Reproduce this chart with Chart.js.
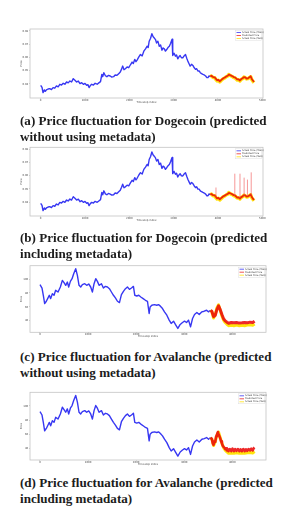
<!DOCTYPE html>
<html>
<head>
<meta charset="utf-8">
<script src="https://cdn.jsdelivr.net/npm/chart.js@4.4.0/dist/chart.umd.min.js"></script>
<style>
	body { margin: 0; width: 297px; height: 524px; background: #fff; position: relative; overflow: hidden; }
	canvas { position: absolute; left: 0; }
	.cap { position: absolute; left: 20px; font-family: "Liberation Serif", serif; font-weight: bold; font-size: 12px;
		line-height: 15.7px; color: #1c1c1c; white-space: nowrap; }
</style>
</head>
<body>
<canvas id="chartA" width="297" height="90" style="top:20px"></canvas>
<canvas id="chartB" width="297" height="90" style="top:138px"></canvas>
<canvas id="chartC" width="297" height="87" style="top:257px"></canvas>
<canvas id="chartD" width="297" height="89" style="top:383px"></canvas>
<div class="cap" style="top:113px">(a) Price fluctuation for Dogecoin (predicted<br>without using metadata)</div>
<div class="cap" style="top:230px">(b) Price fluctuation for Dogecoin (predicted<br>including metadata)</div>
<div class="cap" style="top:349px">(c) Price fluctuation for Avalanche (predicted<br>without using metadata)</div>
<div class="cap" style="top:475px">(d) Price fluctuation for Avalanche (predicted<br>including metadata)</div>
<script>
const seriesLabels = ['Actual Price (Train)', 'Predicted Price', 'Actual Price (Test)'];

// Dogecoin
const dogeXTicks = [0, 1000, 2000, 3000, 4000, 5000];
const dogeYTicks = [0.04, 0.05, 0.06, 0.07, 0.08];
const dogeYLabels = ['0.04', '0.05', '0.06', '0.07', '0.08'];
const dogeTrainIdx = [0, 30, 53, 83, 106, 129, 167, 205, 243, 280, 318, 356, 394, 432, 470, 508, 546, 584, 620, 659, 697, 735, 773, 811, 850, 887, 925, 963, 1000, 1038, 1065, 1092, 1120, 1152, 1190, 1228,
	1275, 1319, 1350, 1380, 1400, 1425, 1460, 1493, 1530, 1569, 1605, 1645, 1680, 1721, 1760, 1796, 1825, 1850, 1880, 1910, 1950, 1986, 2025, 2062, 2090, 2122, 2150, 2175, 2215, 2251, 2290, 2327, 2365, 2403, 2425, 2448, 2480, 2509, 2535, 2562,
	2590, 2615, 2645, 2676, 2705, 2736, 2762, 2789, 2815, 2843, 2872, 2903, 2930, 2956, 2965, 2979, 3010, 3040, 3065, 3093, 3120, 3146, 3175, 3206, 3235, 3267, 3295, 3320, 3345, 3373, 3405, 3434, 3465, 3494, 3520, 3547, 3575, 3601, 3630, 3661,
	3690, 3722, 3750, 3775, 3800, 3828];
const dogeTrainPrice = [0.039, 0.0375, 0.0335, 0.0355, 0.0345, 0.0355, 0.0362, 0.0365, 0.0358, 0.03725, 0.0368, 0.0385, 0.0378, 0.03975, 0.0392, 0.0405, 0.0398, 0.0415, 0.0408, 0.04225, 0.0415, 0.044, 0.0428, 0.0415, 0.0422, 0.04025, 0.041, 0.03975, 0.0404, 0.039, 0.0395, 0.03725, 0.0388, 0.03975, 0.0392, 0.0405,
	0.0398, 0.041, 0.0418, 0.04725, 0.0455, 0.0485, 0.0462, 0.0455, 0.0465, 0.046, 0.0452, 0.0455, 0.0468, 0.0465, 0.0478, 0.049, 0.0512, 0.0535, 0.0508, 0.0515, 0.0528, 0.05225, 0.0545, 0.0565, 0.0555, 0.0585, 0.0568, 0.058, 0.0605, 0.06225, 0.0612, 0.06475, 0.0665, 0.0685, 0.0675, 0.07225, 0.0745, 0.078, 0.0758, 0.07475,
	0.0735, 0.071, 0.0722, 0.0685, 0.0695, 0.0655, 0.0672, 0.0665, 0.0648, 0.066, 0.0675, 0.0685, 0.0705, 0.073, 0.0738, 0.0615, 0.0632, 0.061, 0.0618, 0.059, 0.0605, 0.0615, 0.0598, 0.05975, 0.0612, 0.06225, 0.0595, 0.05725, 0.0555, 0.0535, 0.0548, 0.054, 0.0522, 0.051, 0.0515, 0.04975, 0.0498, 0.0485, 0.0478, 0.04725,
	0.0468, 0.046, 0.0448, 0.04475, 0.0462, 0.0455];
const dogeTestIdx = [3828, 3851, 3890, 3927, 3955, 3980, 4010, 4040, 4070, 4101, 4130, 4161, 4190, 4222, 4245, 4268, 4298, 4328, 4355, 4381, 4410, 4434, 4465, 4495, 4525, 4556, 4585, 4616, 4645, 4677, 4708, 4738, 4760, 4783, 4813];
const dogeTestActual = [0.0455, 0.046, 0.0448, 0.04475, 0.0432, 0.04225, 0.0428, 0.0415, 0.0425, 0.0435, 0.0442, 0.04475, 0.0455, 0.046, 0.0472, 0.0465, 0.046, 0.0455, 0.0448, 0.04475, 0.0438, 0.043, 0.0432, 0.04225, 0.0435, 0.044, 0.0452, 0.04475, 0.0438, 0.044, 0.0448, 0.0455, 0.0435, 0.04225, 0.041];
const dogePredicted = [0.0455, 0.0462, 0.0452, 0.045, 0.0438, 0.0428, 0.0431, 0.042, 0.0429, 0.0438, 0.0445, 0.045, 0.0457, 0.0462, 0.047, 0.0468, 0.0463, 0.0458, 0.0452, 0.045, 0.0442, 0.0434, 0.0435, 0.0426, 0.0437, 0.0443, 0.0452, 0.045, 0.0441, 0.0443, 0.045, 0.0458, 0.044, 0.0428, 0.0416];
const dogeSpikeIdx = [3955, 4380, 4497, 4590, 4665, 4750];
const dogeSpikeBase = [0.044, 0.0447, 0.0427, 0.0447, 0.0444, 0.0451];
const dogeSpikeTop = [0.051, 0.0615, 0.0615, 0.0585, 0.057, 0.0625];

// Avalanche
const avaxXTicks = [0, 1000, 2000, 3000, 4000];
const avaxYTicks = [40, 60, 80, 100];
const avaxYLabels = ['40', '60', '80', '100'];
const avaxTrainIdx = [0, 42, 69, 97, 132, 167, 194, 222, 257, 292, 326, 375, 424, 465, 500, 535, 569, 597, 632, 667,
	701, 743, 778, 812, 847, 882, 931, 972, 1014, 1055, 1090, 1125, 1160, 1194, 1229, 1278, 1319, 1361, 1403, 1444,
	1486, 1528, 1569, 1611, 1653, 1694, 1736, 1778, 1819, 1861, 1903, 1944, 1972, 2014, 2055, 2097, 2146, 2194, 2236, 2271,
	2291, 2326, 2382, 2430, 2465, 2500, 2549, 2590, 2639, 2688, 2729, 2778, 2826, 2868, 2917, 2965, 3007, 3049, 3090, 3132,
	3174, 3215, 3264, 3313, 3368, 3417, 3466, 3507, 3549];
const avaxTrainPrice = [91.9, 87.1, 76.7, 64.8, 68.1, 72.9, 76.7, 71.9, 79, 76.7, 83.8, 81.4, 88.6, 98.1, 94.8, 91, 95.7, 88.6, 96.7, 100.5,
	107.6, 114.8, 105.2, 91, 88.6, 91.9, 93.3, 91, 92.9, 88.6, 81.4, 93.3, 100.5, 96.7, 91, 93.3, 87.1, 89.5, 88.6, 86.2,
	81.4, 76.7, 72.9, 68.1, 66.2, 77.6, 82.4, 86.2, 88.6, 85.2, 87.1, 89.5, 76.7, 75.7, 76.7, 74.3, 71.9, 69.5, 68.1, 50.5,
	60, 62.4, 63.3, 62.4, 63.3, 61.4, 57.6, 52.9, 48.1, 41, 36.2, 39.5, 33.8, 29, 34.8, 37.6, 39.5, 37.6, 41, 31.4,
	43.3, 49, 51.9, 49, 52.9, 53.8, 55.2, 52.9, 55.2];
const avaxTestIdx = [3549, 3576, 3611, 3646, 3680, 3715, 3750, 3785, 3819, 3854, 3889, 3924, 3979, 4035, 4090, 4146, 4201, 4257, 4312, 4368, 4424, 4465];
const avaxTestActual = [55.2, 52.9, 44, 49, 58.5, 63, 55, 47, 41, 37.5, 35, 33, 33.5, 33, 33.8, 33, 33.5, 33, 33.8, 34.2, 33.5, 35.5];
const avaxPredictedC = [55.2, 53.5, 46, 48, 56, 61.5, 56, 49, 43, 40, 38, 36.5, 37.6, 37.1, 37.6, 36.7, 37.1, 37.6, 37.1, 38.1, 37.6, 39.5];
const avaxPredDIdx = [3549, 3576, 3595, 3611, 3630, 3646, 3665, 3680, 3700, 3715, 3733, 3750, 3768, 3785, 3800, 3819, 3836, 3854, 3870, 3889,
	3905, 3924, 3950, 3979, 4005, 4035, 4060, 4090, 4118, 4146, 4172, 4201, 4230, 4257, 4285, 4312, 4340, 4368, 4395, 4424, 4445, 4465];
const avaxPredictedD = [55.2, 53, 47, 45, 50, 49, 57, 59, 63, 60, 57, 54, 50, 47, 44, 42, 41, 39, 40, 37,
	39, 36, 39, 36, 39.5, 36, 39, 36.5, 39, 36, 38.5, 36, 39, 36, 38.5, 36.5, 39, 37, 39.5, 37, 40, 41];

const BLUE = 'rgba(20,20,240,0.85)';
const RED = 'rgba(235,10,10,0.88)';
const YELLOW = 'rgba(255,225,0,0.95)';
const AXIS_FONT = { family: 'DejaVu Sans', size: 2.6 };

function pts(xs, ys) {
	return xs.map((x, i) => ({ x: x, y: ys[i] }));
}

function spikePts(xs, base, top) {
	const out = [];
	xs.forEach((x, i) => {
		out.push({ x: x, y: base[i] }, { x: x, y: top[i] }, { x: x + 1, y: null });
	});
	return out;
}

const frame = {
	id: 'frame',
	afterDraw(chart) {
		const { ctx, chartArea: a } = chart;
		ctx.save();
		ctx.strokeStyle = '#c4c4c4';
		ctx.lineWidth = 0.8;
		ctx.strokeRect(a.left, a.top, a.right - a.left, a.bottom - a.top);
		ctx.restore();
	},
};

const insideLegend = {
	id: 'insideLegend',
	afterDraw(chart) {
		const { ctx, chartArea: a } = chart;
		const items = chart.data.datasets.filter((d) => d.label);
		const w = 26, rowH = 3, h = items.length * rowH + 1;
		const x0 = a.right - w - 1.5, y0 = a.top + 1.5;
		ctx.save();
		ctx.fillStyle = 'rgba(255,255,255,0.85)';
		ctx.strokeStyle = '#d8d8d8';
		ctx.lineWidth = 0.4;
		ctx.fillRect(x0, y0, w, h);
		ctx.strokeRect(x0, y0, w, h);
		ctx.font = '2.3px "DejaVu Sans"';
		ctx.textBaseline = 'middle';
		items.forEach((d, i) => {
			const y = y0 + 2 + i * rowH;
			ctx.strokeStyle = d.borderColor;
			ctx.lineWidth = 0.8;
			ctx.beginPath();
			ctx.moveTo(x0 + 1, y);
			ctx.lineTo(x0 + 5.5, y);
			ctx.stroke();
			ctx.fillStyle = '#333';
			ctx.fillText(d.label, x0 + 6.5, y);
		});
		ctx.restore();
	},
};

function makeChart(id, cfg) {
	const canvas = document.getElementById(id);
	const height = canvas.height;
	return new Chart(canvas.getContext('2d'), {
		type: 'line',
		data: { datasets: cfg.datasets },
		options: {
			responsive: false,
			animation: false,
			events: [],
			elements: { point: { radius: 0 }, line: { tension: 0, borderJoinStyle: 'round' } },
			layout: { padding: { left: 0, top: cfg.plotTop, right: 297 - cfg.plotRight, bottom: 0 } },
			plugins: { legend: { display: false }, tooltip: { enabled: false } },
			scales: {
				x: {
					type: 'linear',
					min: cfg.xMin,
					max: cfg.xMax,
					afterFit: (s) => { s.height = height - cfg.plotBottom; },
					afterBuildTicks: (s) => { s.ticks = cfg.xTicks.map((v) => ({ value: v })); },
					grid: { drawOnChartArea: false, tickLength: 0.6, color: '#777', lineWidth: 0.4 },
					border: { display: false },
					ticks: { font: AXIS_FONT, color: '#444', padding: 0.3, maxRotation: 0, autoSkip: false, callback: (v) => String(v) },
					title: { display: true, text: 'Timestep index', font: AXIS_FONT, color: '#444', padding: { top: 0, bottom: 6.6 } },
				},
				y: {
					type: 'linear',
					min: cfg.yMin,
					max: cfg.yMax,
					afterFit: (s) => { s.width = 30; },
					afterBuildTicks: (s) => { s.ticks = cfg.yTicks.map((v) => ({ value: v })); },
					grid: { drawOnChartArea: false, tickLength: 0.8, color: '#777', lineWidth: 0.4 },
					border: { display: false },
					ticks: { font: AXIS_FONT, color: '#444', padding: 1, autoSkip: false, callback: (v, i) => cfg.yLabels[i] },
					title: { display: true, text: 'Price', font: AXIS_FONT, color: '#444', padding: { top: 20.2, bottom: 0 } },
				},
			},
		},
		plugins: [frame, insideLegend],
	});
}

function trainSet(xs, ys) {
	return { label: seriesLabels[0], data: pts(xs, ys), borderColor: BLUE, borderWidth: 1.4, order: 3 };
}
function predSet(xs, ys, w) {
	return { label: seriesLabels[1], data: pts(xs, ys), borderColor: RED, borderWidth: w, order: 1 };
}
function testSet(xs, ys, w) {
	return { label: seriesLabels[2], data: pts(xs, ys), borderColor: YELLOW, borderWidth: w, order: 2 };
}

const dogeBase = { plotRight: 263, xMin: -241, xMax: 5016, yMin: 0.0294, yMax: 0.0815, xTicks: dogeXTicks, yTicks: dogeYTicks, yLabels: dogeYLabels };
const avaxBase = { plotRight: 266, xMin: -208, xMax: 4702, yMin: 23.5, yMax: 119.2, xTicks: avaxXTicks, yTicks: avaxYTicks, yLabels: avaxYLabels };

makeChart('chartA', Object.assign({}, dogeBase, {
	plotTop: 9, plotBottom: 78,
	datasets: [
		trainSet(dogeTrainIdx, dogeTrainPrice),
		predSet(dogeTestIdx, dogePredicted, 1.8),
		testSet(dogeTestIdx, dogeTestActual, 3.4),
	],
}));

makeChart('chartB', Object.assign({}, dogeBase, {
	plotTop: 9.3, plotBottom: 78,
	datasets: [
		trainSet(dogeTrainIdx, dogeTrainPrice),
		predSet(dogeTestIdx, dogePredicted, 1.8),
		testSet(dogeTestIdx, dogeTestActual, 3.4),
		{ data: spikePts(dogeSpikeIdx, dogeSpikeBase, dogeSpikeTop), borderColor: 'rgba(240,80,80,0.75)', borderWidth: 0.8, spanGaps: false, order: 0 },
	],
}));

makeChart('chartC', Object.assign({}, avaxBase, {
	plotTop: 8.7, plotBottom: 75.3,
	datasets: [
		trainSet(avaxTrainIdx, avaxTrainPrice),
		predSet(avaxTestIdx, avaxPredictedC, 3),
		testSet(avaxTestIdx, avaxTestActual, 3),
	],
}));

makeChart('chartD', Object.assign({}, avaxBase, {
	plotTop: 9.3, plotBottom: 77,
	datasets: [
		trainSet(avaxTrainIdx, avaxTrainPrice),
		predSet(avaxPredDIdx, avaxPredictedD, 2.6),
		testSet(avaxTestIdx, avaxTestActual, 3),
	],
}));

// fit caption font so the first line spans the same width as in the figure
const caps = document.querySelectorAll('.cap');
const probe = document.createElement('canvas').getContext('2d');
probe.font = 'bold 12px "Liberation Serif"';
const w12 = probe.measureText('(a) Price fluctuation for Dogecoin (predicted').width;
const fitSize = 12 * 247 / w12;
caps.forEach((c) => { c.style.fontSize = fitSize.toFixed(2) + 'px'; });
</script>
</body>
</html>
